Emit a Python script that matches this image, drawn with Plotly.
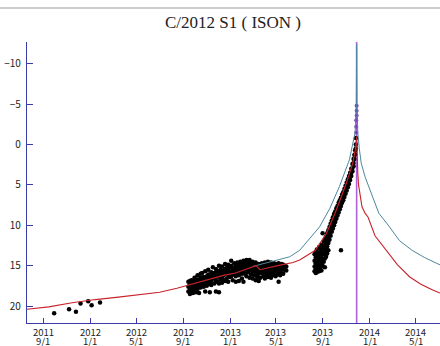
import plotly.graph_objects as go

# ---------------- data ----------------
perihelion = "2013-11-28"

tick_dates = ["2011-09-01", "2012-01-01", "2012-05-01", "2012-09-01", "2013-01-01",
              "2013-05-01", "2013-09-01", "2014-01-01", "2014-05-01"]
tick_years = ["2011", "2012", "2012", "2012", "2013", "2013", "2013", "2014", "2014"]
tick_days = ["9/1", "1/1", "5/1", "9/1", "1/1", "5/1", "9/1", "1/1", "5/1"]
y_ticks = [-10, -5, 0, 5, 10, 15, 20]

# red model curve
red_date = ["2011-07-20", "2011-09-15", "2011-11-15", "2012-01-15", "2012-03-15", "2012-05-15",
            "2012-07-01", "2012-08-15", "2012-09-15", "2012-10-15", "2012-11-15", "2012-12-15",
            "2013-01-15", "2013-02-15", "2013-03-10", "2013-03-20", "2013-04-15", "2013-05-15",
            "2013-06-15", "2013-07-02", "2013-08-12", "2013-09-10", "2013-10-06", "2013-11-01",
            "2013-11-18", "2013-11-25", "2013-11-28", "2013-11-29", "2013-12-01", "2013-12-03",
            "2013-12-08", "2013-12-12", "2013-12-20", "2013-12-28", "2014-01-15", "2014-02-14",
            "2014-03-15", "2014-04-16", "2014-05-15", "2014-06-15", "2014-07-04"]
red_mag = [20.4, 20.1, 19.6, 19.2, 18.9, 18.6,
           18.3, 17.8, 17.4, 17.0, 16.6, 16.2,
           15.9, 15.4, 15.0, 15.5, 15.2, 14.9,
           14.6, 14.3, 13.1, 11.0, 8.1, 4.8,
           2.3, 0.5, -1.0, 1.0, 3.5, 5.0,
           6.8, 7.7, 8.5, 9.0, 11.3, 13.1,
           14.9, 16.4, 17.3, 18.0, 18.4]

# blue model curve
blue_date = ["2013-03-01", "2013-04-08", "2013-05-10", "2013-06-06", "2013-07-02", "2013-07-28",
             "2013-08-23", "2013-09-19", "2013-10-14", "2013-11-09", "2013-11-18", "2013-11-24",
             "2013-11-27", "2013-11-28", "2013-11-29", "2013-12-01", "2013-12-05", "2013-12-10",
             "2013-12-20", "2014-01-08", "2014-01-25", "2014-02-22", "2014-03-20", "2014-04-22",
             "2014-05-25", "2014-07-04"]
blue_mag = [15.1, 14.6, 14.2, 13.9, 13.1, 11.6,
            10.2, 7.9, 5.2, 1.9, 0.0, -1.5,
            -5.0, -12.4, -5.0, -1.5, 0.5, 2.3,
            4.0, 6.4, 8.5, 10.2, 11.9, 13.1,
            14.0, 14.9]

# observations: early
obs0_date = ["2011-09-29", "2011-11-07", "2011-11-25", "2011-12-07", "2011-12-27", "2012-01-05", "2012-01-27"]
obs0_mag = [20.9, 20.4, 20.7, 19.7, 19.4, 19.9, 19.55]

# observations: 2012-09 .. 2013-05 (one row per night)
obs1_date = ["2012-09-14", "2012-09-18", "2012-09-22", "2012-09-26", "2012-09-30", "2012-10-04",
             "2012-10-08", "2012-10-12", "2012-10-16", "2012-10-20", "2012-10-24", "2012-10-28",
             "2012-11-01", "2012-11-05", "2012-11-09", "2012-11-13", "2012-11-17", "2012-11-21",
             "2012-11-25", "2012-11-29", "2012-12-03", "2012-12-07", "2012-12-11", "2012-12-15",
             "2012-12-19", "2012-12-23", "2012-12-27", "2012-12-31", "2013-01-04", "2013-01-08",
             "2013-01-12", "2013-01-16", "2013-01-20", "2013-01-24", "2013-01-28", "2013-02-01",
             "2013-02-05", "2013-02-09", "2013-02-13", "2013-02-17", "2013-02-21", "2013-02-25",
             "2013-03-01", "2013-03-05", "2013-03-09", "2013-03-13", "2013-03-17", "2013-03-21",
             "2013-03-25", "2013-03-29", "2013-04-02", "2013-04-06", "2013-04-10", "2013-04-14",
             "2013-04-18", "2013-04-22", "2013-04-26", "2013-04-30", "2013-05-04", "2013-05-08",
             "2013-05-12", "2013-05-16", "2013-05-20", "2013-05-24", "2013-05-28"]
obs1_mag = [[17.6, 18.2, 17.0], [17.3, 17.9, 18.5, 16.9], [17.5, 18.1, 16.8], [17.2, 17.8, 18.4],
            [16.9, 17.5, 18.0, 16.5], [17.1, 17.7, 18.3], [16.7, 17.3, 17.9, 16.2], [16.9, 17.5, 18.4],
            [16.5, 17.1, 17.7, 16.0], [16.8, 17.4, 15.9], [16.4, 17.0, 17.6], [16.6, 17.2, 15.7, 18.2],
            [16.3, 16.9, 17.5], [15.5, 16.1, 16.7, 17.3], [16.4, 17.0, 18.3], [15.8, 16.3, 16.9, 17.4],
            [15.2, 16.0, 16.6], [15.9, 16.5, 17.2], [15.4, 16.2, 16.8, 18.2], [15.7, 16.3, 17.0],
            [15.0, 15.8, 16.4, 17.2, 18.3], [15.5, 16.1, 16.7], [15.1, 15.9, 16.5, 17.1], [15.6, 16.2, 16.8],
            [14.8, 15.4, 16.0, 16.9], [15.3, 15.9, 16.6], [14.9, 15.6, 16.2, 17.0], [15.2, 15.8, 16.4],
            [14.4, 15.0, 15.7, 16.3], [15.3, 15.9, 16.8], [14.7, 15.4, 16.1], [15.0, 15.6, 16.3, 17.0],
            [14.6, 15.2, 15.8], [14.9, 15.5, 16.2, 16.9], [14.5, 15.1, 15.7], [14.8, 15.4, 16.0, 16.6],
            [14.4, 15.0, 15.6, 17.0], [14.7, 15.3, 16.0], [14.3, 14.9, 15.5, 16.3], [14.6, 15.2, 15.8],
            [14.3, 14.9, 15.6, 16.5], [14.8, 15.4, 16.1], [14.5, 15.1, 15.7, 16.6], [14.9, 15.5, 16.2],
            [14.6, 15.2, 15.9, 16.8], [15.0, 15.6, 16.4], [14.8, 15.4, 16.0, 16.9], [15.1, 15.7, 16.5],
            [14.7, 15.3, 15.9], [15.0, 15.6, 16.3], [14.6, 15.2, 15.8, 16.6], [14.9, 15.5, 16.1],
            [14.5, 15.1, 15.7, 16.4], [14.8, 15.4, 16.0], [14.6, 15.2, 15.8, 16.5], [14.9, 15.5, 16.2],
            [14.7, 15.3, 15.9], [15.0, 15.6, 16.3], [14.8, 15.4, 16.1], [14.7, 15.2, 15.8, 17.0],
            [15.0, 15.5, 16.2], [14.8, 15.3, 15.9], [14.9, 15.4, 16.0], [15.0, 15.5], [15.1, 15.6]]

# observations: 2013-08 .. perihelion (one row per night)
obs2_date = ["2013-08-10", "2013-08-13", "2013-08-16", "2013-08-19", "2013-08-22", "2013-08-25",
             "2013-08-28", "2013-08-31", "2013-09-03", "2013-09-06", "2013-09-09", "2013-09-12",
             "2013-09-15", "2013-09-18", "2013-09-21", "2013-09-24", "2013-09-27", "2013-09-30",
             "2013-10-03", "2013-10-06", "2013-10-09", "2013-10-12", "2013-10-15", "2013-10-18",
             "2013-10-21", "2013-10-24", "2013-10-27", "2013-10-30", "2013-11-02", "2013-11-05",
             "2013-11-08", "2013-11-11", "2013-11-14", "2013-11-17", "2013-11-20", "2013-11-22",
             "2013-11-24", "2013-11-26"]
obs2_mag = [[13.6, 14.4, 15.1, 15.7], [13.3, 14.0, 14.7, 15.4, 15.9], [13.0, 13.8, 14.5, 15.2, 15.8],
            [13.4, 14.1, 14.8, 15.5], [12.7, 13.5, 14.3, 15.0, 15.7], [12.9, 13.7, 14.4, 15.3],
            [12.4, 13.2, 14.0, 14.8, 15.6], [11.0, 12.6, 13.4, 14.2, 15.0], [12.0, 12.8, 13.6, 14.5],
            [11.7, 12.5, 13.3, 14.1, 15.2], [11.4, 12.2, 13.0, 13.9], [11.0, 11.8, 12.6, 13.5],
            [10.6, 11.4, 12.2, 13.1], [10.2, 11.0, 11.8], [9.8, 10.5, 11.3], [9.4, 10.1, 10.8],
            [9.0, 9.7, 10.4], [8.6, 9.3, 10.0], [8.3, 8.9, 9.6], [7.9, 8.5, 9.2], [7.6, 8.1, 8.8],
            [7.2, 7.8, 8.4], [6.9, 7.4, 8.0], [6.6, 7.1, 7.6, 13.1], [6.2, 6.7, 7.2], [5.9, 6.4, 6.9],
            [5.5, 6.0, 6.5], [5.1, 5.6, 6.1], [4.7, 5.2, 5.7], [4.3, 4.8, 5.3], [3.9, 4.4, 4.9],
            [3.5, 4.0, 4.4], [3.0, 3.5, 3.9], [2.4, 2.9, 3.3], [1.8, 2.3, 2.7], [1.3, 1.8],
            [0.7, 1.2], [0.0, 0.5, -0.8]]

# observations right at perihelion
obs3_date = ["2013-11-27", "2013-11-27", "2013-11-27", "2013-11-28", "2013-11-28", "2013-11-28"]
obs3_mag = [-1.5, -2.2, -3.0, -3.6, -4.2, -4.8]

x_range = ["2011-07-20", "2014-07-04"]
y_range = [22.1, -12.7]

# ---------------- figure ----------------
def flatten(dates, mags):
    xs, ys = [], []
    for d, ms in zip(dates, mags):
        for m in ms:
            xs.append(d)
            ys.append(m)
    return xs, ys

x1, y1 = flatten(obs1_date, obs1_mag)
x2, y2 = flatten(obs2_date, obs2_mag)

AX = "#3a3aa8"
PLOT_H = 281.0
fig = go.Figure()

# perihelion line
fig.add_trace(go.Scatter(x=[perihelion, perihelion], y=y_range, mode="lines",
                         line=dict(color="#b060d8", width=1.6), hoverinfo="skip"))

dot = dict(color="black", size=4.5)
fig.add_trace(go.Scatter(x=obs0_date, y=obs0_mag, mode="markers", marker=dot))
fig.add_trace(go.Scatter(x=x1, y=y1, mode="markers", marker=dot))
fig.add_trace(go.Scatter(x=x2, y=y2, mode="markers", marker=dot))
fig.add_trace(go.Scatter(x=obs3_date, y=obs3_mag, mode="markers",
                         marker=dict(color="#7040b0", size=4)))

fig.add_trace(go.Scatter(x=blue_date, y=blue_mag, mode="lines",
                         line=dict(color="#4f86a0", width=1)))
fig.add_trace(go.Scatter(x=red_date, y=red_mag, mode="lines",
                         line=dict(color="#c8242c", width=1.1)))

tick_font = dict(family="Noto Sans CJK JP", size=10, color="#222")
xlab_font = dict(family="Noto Sans CJK JP", size=9.5, color="#222")
annotations = [dict(text="C/2012 S1 ( ISON )", xref="paper", yref="paper",
                    x=(233 - 27) / 413, y=1 + (42 - 22) / PLOT_H, xanchor="center", yanchor="middle",
                    showarrow=False,
                    font=dict(family="Liberation Serif, DejaVu Serif, serif", size=17, color="#222"))]
for d, yr, dy in zip(tick_dates, tick_years, tick_days):
    annotations.append(dict(text=yr, x=d, xref="x", yref="paper", y=-9.0 / PLOT_H,
                            xanchor="center", yanchor="middle", showarrow=False, font=xlab_font))
    annotations.append(dict(text=dy, x=d, xref="x", yref="paper", y=-17.5 / PLOT_H,
                            xanchor="center", yanchor="middle", showarrow=False, font=xlab_font))

fig.update_layout(
    width=440, height=346,
    margin=dict(l=27, r=0, t=42, b=23),
    paper_bgcolor="white", plot_bgcolor="white",
    showlegend=False,
    font=tick_font,
    xaxis=dict(range=x_range, tickmode="array", tickvals=tick_dates, showticklabels=False,
               automargin=False,
               showgrid=False, zeroline=False, showline=True, linecolor=AX, linewidth=1.2,
               ticks="inside", ticklen=5, tickcolor=AX),
    yaxis=dict(range=y_range, tickmode="array", tickvals=y_ticks, automargin=False,
               showgrid=False, zeroline=False, showline=True, linecolor=AX, linewidth=1.2,
               ticks="inside", ticklen=6, tickcolor=AX, tickfont=tick_font, ticklabelstandoff=3),
    annotations=annotations,
    shapes=[dict(type="line", xref="paper", yref="paper", x0=-27 / 413, x1=1,
                 y0=1 + (42 - 8) / PLOT_H, y1=1 + (42 - 8) / PLOT_H,
                 line=dict(color="#999", width=1.2))],
)

fig.write_html("out.html", config={"displayModeBar": False},
               post_script="document.body.style.margin='0';document.body.style.overflow='hidden';")
